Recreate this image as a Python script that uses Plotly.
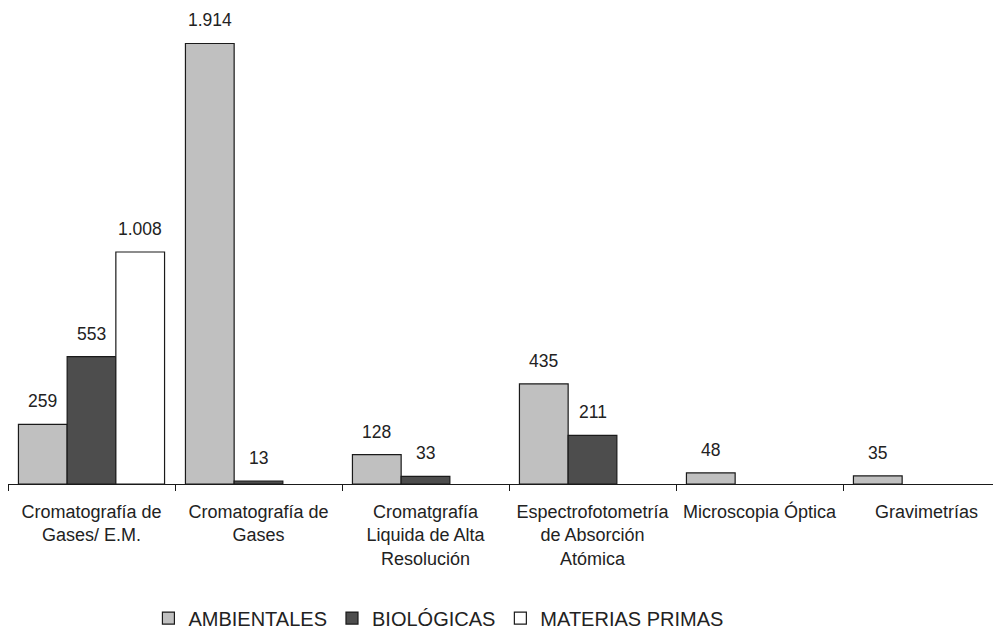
import plotly.graph_objects as go

categorias = [
    "Cromatografía de<br>Gases/ E.M.",
    "Cromatografía de<br>Gases",
    "Cromatgrafía<br>Liquida de Alta<br>Resolución",
    "Espectrofotometría<br>de Absorción<br>Atómica",
    "Microscopia Óptica",
    "Gravimetrías",
]
series = ["AMBIENTALES", "BIOLÓGICAS", "MATERIAS PRIMAS"]
ambientales = [259, 1914, 128, 435, 48, 35]
biologicas = [553, 13, 33, 211, None, None]
materias_primas = [1008, None, None, None, None, None]

valores = [ambientales, biologicas, materias_primas]
colores = ["#c0c0c0", "#4d4d4d", "#ffffff"]
fuente = "Liberation Sans, Arial, sans-serif"

W, H = 1001, 628
ml, mr, mt, mb = 0, 0, 12, 152
bargap = 0.125
x_range = [-0.5, 5.494]


def fmt(v):
    return f"{v:,}".replace(",", ".")


fig = go.Figure()
for nombre, vals, col in zip(series, valores, colores):
    fig.add_trace(go.Bar(
        name=nombre,
        x=categorias,
        y=vals,
        marker=dict(color=col, line=dict(color="#1a1a1a", width=1.2)),
    ))

# value labels above bars, shifted to each bar within the group
px_per_cat = (W - ml - mr) / (x_range[1] - x_range[0])
bar_w = px_per_cat * (1 - bargap) / len(series)
for i, vals in enumerate(valores):
    shift = (i - (len(series) - 1) / 2) * bar_w
    for cat, v in zip(categorias, vals):
        if v is None:
            continue
        fig.add_annotation(
            x=cat, y=v, text=fmt(v), showarrow=False,
            xshift=shift, yshift=23, yanchor="middle",
            font=dict(family=fuente, size=17.5, color="#222222"),
        )

fig.update_layout(
    width=W, height=H,
    margin=dict(l=ml, r=mr, t=mt, b=mb, autoexpand=False),
    barmode="group", bargap=bargap, bargroupgap=0,
    plot_bgcolor="white", paper_bgcolor="white",
    font=dict(family=fuente, size=18, color="#222222"),
    showlegend=True,
    legend=dict(
        orientation="h", x=0.43, xanchor="center", y=-0.289, yanchor="middle",
        font=dict(family=fuente, size=20, color="#222222"),
        traceorder="normal",
    ),
    xaxis=dict(
        range=x_range, showline=True, linecolor="#1a1a1a", linewidth=1.2,
        ticks="outside", tickson="boundaries", ticklen=6, tickcolor="#1a1a1a",
        showgrid=False, ticklabelstandoff=11, tickangle=0, automargin=False,
        tickfont=dict(family=fuente, size=18, color="#222222"),
    ),
    yaxis=dict(
        range=[0, 2016], visible=False, showgrid=False, zeroline=False,
    ),
)

fig.write_html("out.html")
